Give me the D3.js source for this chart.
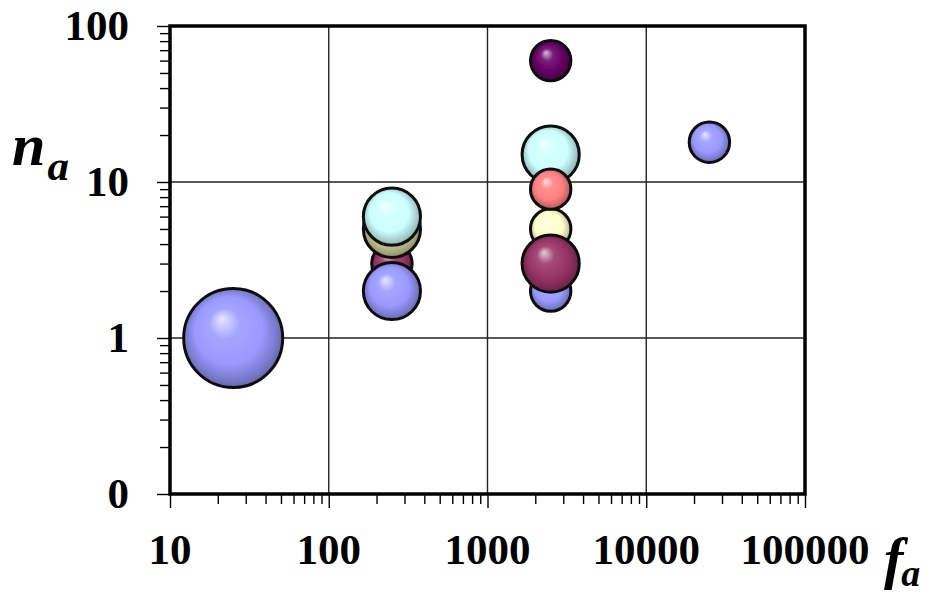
<!DOCTYPE html>
<html>
<head>
<meta charset="utf-8">
<script src="https://cdn.jsdelivr.net/npm/d3@7"></script>
<style>
  body { margin: 0; background: #fff; }
</style>
</head>
<body>
<div id="chart"></div>
<script>
// data
var faValues = [25, 250, 250, 250, 250, 2500, 2500, 2500, 2500, 2500, 2500, 25000];
var naValues = [1, 3, 5, 6, 2, 2, 5, 3, 15, 9, 60, 18];
var sizeValues = [6, 1, 2, 2, 2, 1, 1, 2, 2, 1, 1, 1];
var bubbleColors = ["#9999FF", "#993366", "#CCCC99", "#CCFFFF", "#9999FF", "#9999FF",
  "#FFFFCC", "#993366", "#CCFFFF", "#FF8080", "#660066", "#9999FF"];
var xTickValues = [10, 100, 1000, 10000, 100000];
var xTickLabels = ["10", "100", "1000", "10000", "100000"];
var yTickValues = [0.1, 1, 10, 100];
var yTickLabels = ["0", "1", "10", "100"];

var width = 943, height = 602;
var plot = { left: 170, right: 805, top: 26, bottom: 494 };
var serif = "'Liberation Serif', 'Times New Roman', Times, serif";

var svg = d3.select("#chart").append("svg")
  .attr("width", width)
  .attr("height", height)
  .attr("font-family", serif)
  .attr("font-weight", "bold");

var xScale = d3.scaleLog().domain([10, 100000]).range([plot.left, plot.right]);
var yScale = d3.scaleLog().domain([0.1, 100]).range([plot.bottom, plot.top]);
var rScale = d3.scaleSqrt().domain([0, 6]).range([0, 49.5]);

var defs = svg.append("defs");
defs.append("filter").attr("id", "soft")
  .append("feGaussianBlur").attr("stdDeviation", 0.6);

// one gradient per colour, light spot up-left
var uniqueColors = Array.from(new Set(bubbleColors));
uniqueColors.forEach(function (c, i) {
  var g = defs.append("radialGradient")
    .attr("id", "grad" + i)
    .attr("cx", "50%").attr("cy", "50%").attr("r", "55%")
    .attr("fx", "38%").attr("fy", "30%");
  g.append("stop").attr("offset", "0%").attr("stop-color", d3.interpolateRgb(c, "#fff")(0.75));
  g.append("stop").attr("offset", "28%").attr("stop-color", d3.interpolateRgb(c, "#fff")(0.12));
  g.append("stop").attr("offset", "62%").attr("stop-color", c);
  g.append("stop").attr("offset", "85%").attr("stop-color", d3.color(c).darker(0.7));
  g.append("stop").attr("offset", "100%").attr("stop-color", d3.color(c).darker(1.6));
});

// grid
svg.append("g").selectAll("line")
  .data(xTickValues.slice(1, -1))
  .enter().append("line")
  .attr("x1", function (d) { return xScale(d); })
  .attr("x2", function (d) { return xScale(d); })
  .attr("y1", plot.top).attr("y2", plot.bottom)
  .attr("stroke", "#222").attr("stroke-width", 1.4);
svg.append("g").selectAll("line")
  .data(yTickValues.slice(1, -1))
  .enter().append("line")
  .attr("x1", plot.left).attr("x2", plot.right)
  .attr("y1", function (d) { return yScale(d); })
  .attr("y2", function (d) { return yScale(d); })
  .attr("stroke", "#222").attr("stroke-width", 1.4);

// axes (minor ticks from the log scale, labels drawn separately)
var xAxis = d3.axisBottom(xScale)
  .tickValues(xScale.ticks())
  .tickSize(10)
  .tickFormat("");
var gX = svg.append("g")
  .attr("transform", "translate(0," + plot.bottom + ")")
  .call(xAxis);
gX.select(".domain").remove();
gX.selectAll(".tick line").attr("stroke", "#000").attr("stroke-width", 1.4)
  .attr("y2", function (d) { return xTickValues.indexOf(d) >= 0 ? 14 : 10; });

var yAxis = d3.axisLeft(yScale)
  .tickValues(yScale.ticks())
  .tickSize(10)
  .tickFormat("");
var gY = svg.append("g")
  .attr("transform", "translate(" + plot.left + ",0)")
  .call(yAxis);
gY.select(".domain").remove();
gY.selectAll(".tick line").attr("stroke", "#000").attr("stroke-width", 1.4)
  .attr("x2", function (d) { return yTickValues.indexOf(d) >= 0 ? -13 : -10; });

// frame
svg.append("rect")
  .attr("x", plot.left).attr("y", plot.top)
  .attr("width", plot.right - plot.left)
  .attr("height", plot.bottom - plot.top)
  .attr("fill", "none").attr("stroke", "#000").attr("stroke-width", 3.5);

// tick labels
svg.append("g").selectAll("text")
  .data(xTickValues)
  .enter().append("text")
  .attr("x", function (d) { return xScale(d); })
  .attr("y", 564)
  .attr("text-anchor", "middle")
  .attr("font-family", serif)
  .attr("font-size", 43)
  .text(function (d, i) { return xTickLabels[i]; });

svg.append("g").selectAll("text")
  .data(yTickValues)
  .enter().append("text")
  .attr("x", 129)
  .attr("y", function (d) { return yScale(d) + 14; })
  .attr("text-anchor", "end")
  .attr("font-family", serif)
  .attr("font-size", 43)
  .text(function (d, i) { return yTickLabels[i]; });

// axis titles
var nTitle = svg.append("text").attr("x", 12).attr("y", 165)
  .attr("font-family", serif)
  .attr("font-style", "italic").attr("font-size", 60);
nTitle.append("tspan").text("n");
nTitle.append("tspan").attr("dx", 2).attr("dy", 15).attr("font-size", 43).text("a");

// f_a at the lower right corner, kept just inside the page
var fTitle = svg.append("text").attr("x", 884).attr("y", 578)
  .attr("font-family", serif)
  .attr("font-style", "italic").attr("font-size", 58);
fTitle.append("tspan").text("f");
fTitle.append("tspan").attr("dx", -2).attr("dy", 8).attr("font-size", 38).text("a");

// bubbles
var bubbles = faValues.map(function (fa, i) {
  return { fa: fa, na: naValues[i], size: sizeValues[i], color: bubbleColors[i] };
});

svg.append("g").selectAll("circle")
  .data(bubbles)
  .enter().append("circle")
  .attr("cx", function (d) { return xScale(d.fa); })
  .attr("cy", function (d) { return yScale(d.na); })
  .attr("r", function (d) { return rScale(d.size); })
  .attr("fill", function (d) { return "url(#grad" + uniqueColors.indexOf(d.color) + ")"; })
  .attr("stroke", "#111")
  .attr("stroke-width", 3)
  .attr("filter", "url(#soft)");
</script>
</body>
</html>
